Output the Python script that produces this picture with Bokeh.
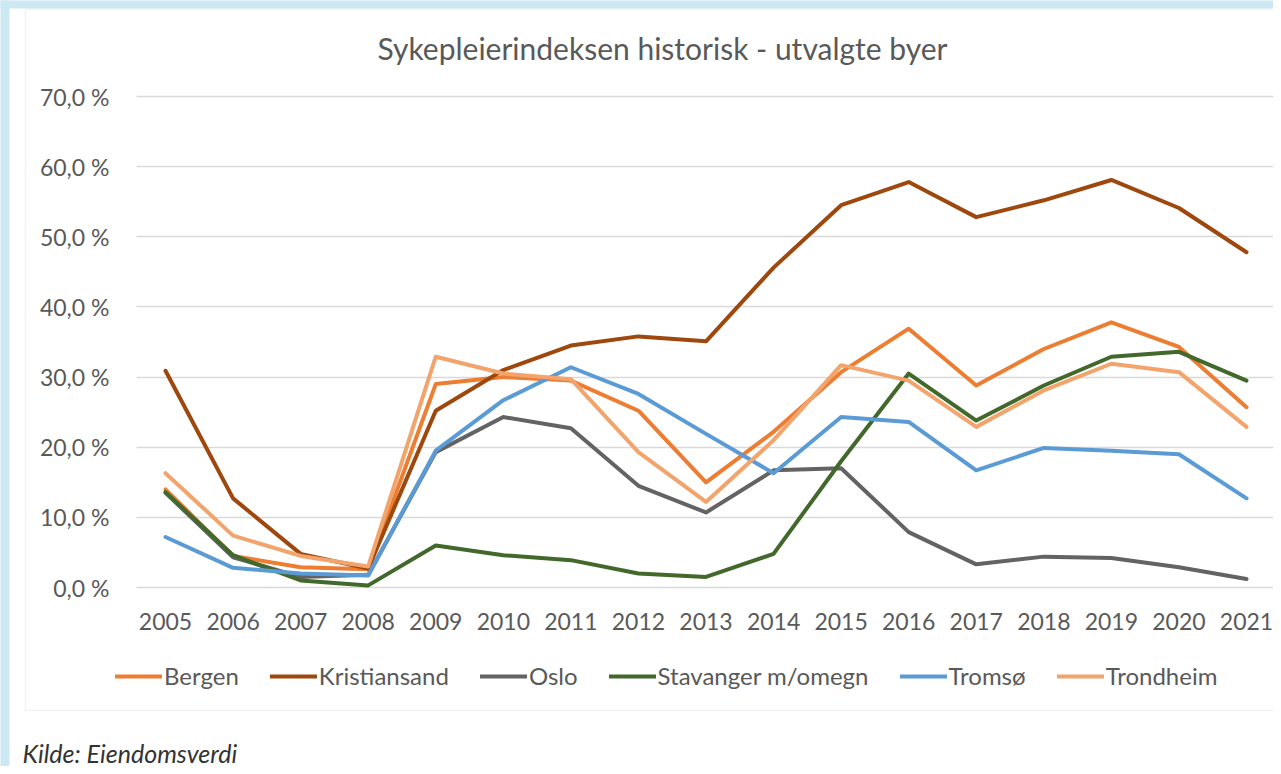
from bokeh.plotting import figure
from bokeh.models import FixedTicker, Legend, LegendItem, Label, Grid, BoxAnnotation
from bokeh.embed import file_html
from bokeh.resources import INLINE

# ---- data ----
years = list(range(2005, 2022))
bergen = [14.0, 4.5, 2.9, 2.6, 29.0, 30.0, 29.5, 25.2, 15.0, 22.2, 30.7, 36.9, 28.8, 34.0, 37.8, 34.3, 25.7]
kristiansand = [30.9, 12.7, 4.8, 2.7, 25.2, 31.0, 34.5, 35.8, 35.1, 45.6, 54.5, 57.8, 52.8, 55.2, 58.1, 54.1, 47.8]
oslo = [13.5, 4.3, 1.5, 1.8, 19.3, 24.3, 22.7, 14.5, 10.7, 16.7, 17.0, 7.9, 3.3, 4.4, 4.2, 2.9, 1.2]
stavanger = [13.6, 4.6, 1.0, 0.3, 6.0, 4.6, 3.9, 2.0, 1.5, 4.8, 18.0, 30.5, 23.8, 28.8, 32.9, 33.6, 29.5]
tromso = [7.2, 2.8, 2.0, 1.7, 19.5, 26.7, 31.4, 27.6, 21.9, 16.3, 24.3, 23.6, 16.7, 19.9, 19.5, 19.0, 12.7]
trondheim = [16.3, 7.4, 4.5, 3.0, 32.9, 30.5, 29.7, 19.3, 12.2, 21.0, 31.7, 29.5, 22.9, 28.1, 31.9, 30.7, 22.9]

series_names = ["Bergen", "Kristiansand", "Oslo", "Stavanger m/omegn", "Tromsø", "Trondheim"]
series_values = [bergen, kristiansand, oslo, stavanger, tromso, trondheim]
series_colors = ["#ED7D31", "#9E480E", "#636363", "#43682B", "#5B9BD5", "#F2A46C"]

y_ticks = [0, 10, 20, 30, 40, 50, 60, 70]
y_tick_labels = ["0,0 %", "10,0 %", "20,0 %", "30,0 %", "40,0 %", "50,0 %", "60,0 %", "70,0 %"]

title_text = "Sykepleierindeksen historisk - utvalgte byer"
source_text = "Kilde: Eiendomsverdi"

FONT = "Lato"
TXT = "#595959"

# ---- layout: the plot frame fills the whole canvas; axes sit at fixed positions ----
W, H = 1273, 766
PX_PER_YEAR = (1246 - 165) / 16.0       # 2005 at px 165, 2021 at px 1246
PX_PER_PCT = (587 - 96) / 70.0          # 0 % at px 587, 70 % at px 96
x0 = 2005 - 165 / PX_PER_YEAR
x1 = x0 + W / PX_PER_YEAR
y1 = 587 / PX_PER_PCT
y0 = y1 - H / PX_PER_PCT


def px_x(px):
    return x0 + px / PX_PER_YEAR


def px_y(py):
    return y1 - py / PX_PER_PCT


p = figure(width=W, height=H, output_backend="svg", toolbar_location=None,
           x_range=(x0, x1), y_range=(y0, y1),
           min_border=0, min_border_left=0, min_border_right=0, min_border_top=0, min_border_bottom=0)
p.background_fill_color = "white"
p.border_fill_color = "white"
p.outline_line_color = None

# page background strips and chart border
p.add_layout(BoxAnnotation(left=px_x(-5), right=px_x(9), bottom=px_y(H + 5), top=px_y(-5),
                           fill_color="#CCE8F3", fill_alpha=1, line_color=None, level="underlay"))
p.add_layout(BoxAnnotation(left=px_x(-5), right=px_x(W + 5), bottom=px_y(8), top=px_y(-5),
                           fill_color="#CCE8F3", fill_alpha=1, line_color=None, level="underlay"))
p.add_layout(BoxAnnotation(left=px_x(25), right=px_x(W + 20), bottom=px_y(710), top=px_y(9),
                           fill_alpha=0, line_color="#D6D6D6", line_width=1.5, level="underlay"))

renderers = []
for name, vals, col in zip(series_names, series_values, series_colors):
    r = p.line(years, vals, line_color=col, line_width=4, line_join="round", line_cap="round")
    renderers.append((name, r))

# axes
p.xaxis.ticker = FixedTicker(ticks=years)
p.yaxis.ticker = FixedTicker(ticks=y_ticks)
p.yaxis.major_label_overrides = {t: l for t, l in zip(y_ticks, y_tick_labels)}
for ax in (p.xaxis, p.yaxis):
    ax.axis_line_color = None
    ax.major_tick_line_color = None
    ax.minor_tick_line_color = None
    ax.major_label_text_font = FONT
    ax.major_label_text_font_size = "23px"
    ax.major_label_text_color = TXT
p.xaxis.fixed_location = px_y(590)
p.yaxis.fixed_location = px_x(131)
p.yaxis.major_label_standoff = 16
p.xaxis.major_label_standoff = 16

p.xgrid.grid_line_color = None
p.ygrid.grid_line_color = "#D9D9D9"
p.ygrid.grid_line_width = 1.5
p.ygrid.ticker = FixedTicker(ticks=y_ticks)
if "cross_bounds" in Grid.properties():
    p.ygrid.cross_bounds = (px_x(136), px_x(1275))

# title
p.add_layout(Label(x=px_x(662), y=px_y(47), text=title_text, text_font=FONT,
                   text_font_size="30px", text_color=TXT,
                   text_align="center", text_baseline="middle"))

# legend
legend = Legend(items=[LegendItem(label=n, renderers=[r]) for n, r in renderers],
                orientation="horizontal", location=(115, H - 690))
legend.glyph_width = 47
legend.glyph_height = 20
legend.label_standoff = 2
legend.spacing = 31
legend.padding = 0
legend.margin = 0
legend.border_line_color = None
legend.background_fill_alpha = 0
legend.label_text_font = FONT
legend.label_text_font_size = "24px"
legend.label_text_color = TXT
p.add_layout(legend, "center")

# source note
p.add_layout(Label(x=px_x(22), y=px_y(752), text=source_text, text_font=FONT,
                   text_font_size="25px", text_font_style="italic", text_color="#333333",
                   text_align="left", text_baseline="middle"))

open("out.html", "w").write(file_html(p, INLINE))
